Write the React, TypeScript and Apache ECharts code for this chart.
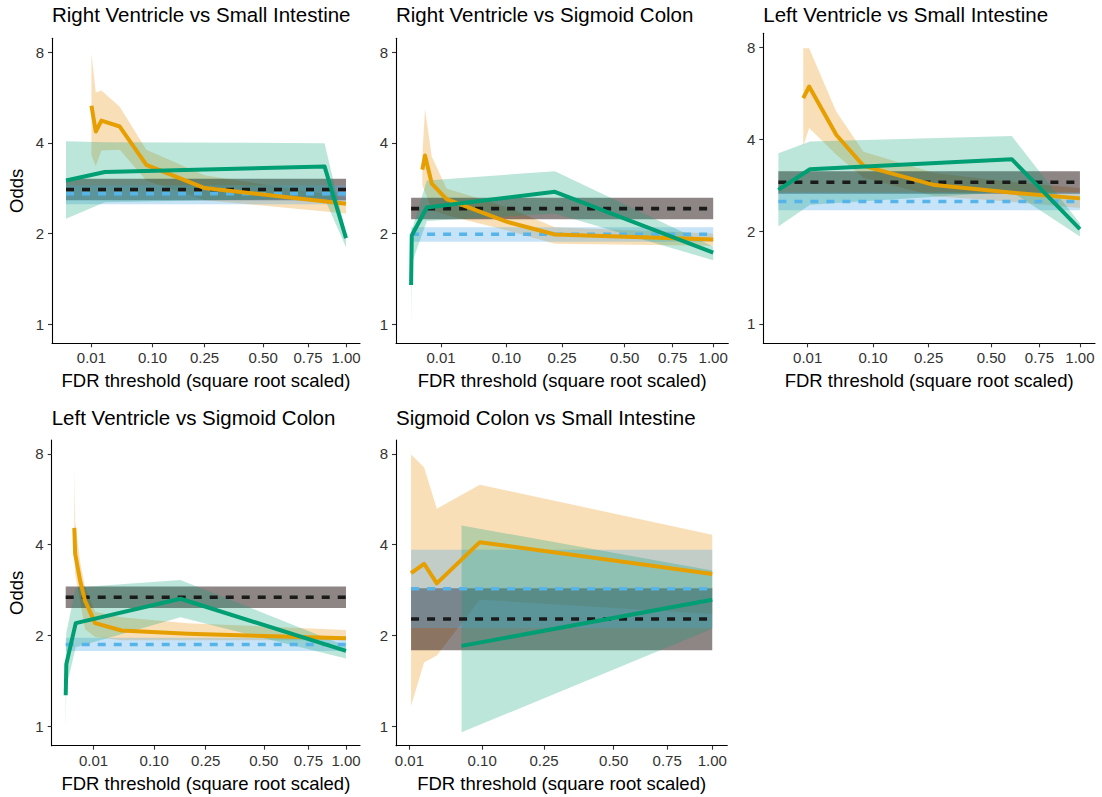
import React, { useEffect, useRef } from "react";
import * as echarts from "echarts";

// ---- text ----
const PANEL_TITLES = [
  "Right Ventricle vs Small Intestine",
  "Right Ventricle vs Sigmoid Colon",
  "Left Ventricle vs Small Intestine",
  "Left Ventricle vs Sigmoid Colon",
  "Sigmoid Colon vs Small Intestine",
];
const X_TITLE = "FDR threshold (square root scaled)";
const Y_TITLE = "Odds";
const X_TICKS = [0.01, 0.1, 0.25, 0.5, 0.75, 1.0];
const Y_TICKS = [1, 2, 4, 8];

// ---- data: rows are [FDR threshold, odds, lower, upper] ----
const RVSI_ORANGE = [
  [0.01, 5.31, 3.63, 7.9],
  [0.0133, 4.36, 3.35, 5.88],
  [0.0183, 4.74, 3.77, 5.96],
  [0.04, 4.53, 3.79, 5.27],
  [0.0865, 3.38, 3.0, 3.79],
  [0.25, 2.83, 2.58, 3.12],
  [1.0, 2.51, 2.33, 2.64],
];
const RVSI_GREEN = [
  [0.0001, 3.0, 2.24, 4.05],
  [0.0217, 3.2, 2.54, 4.02],
  [0.854, 3.34, 2.62, 3.99],
  [1.0, 1.93, 1.8, 2.0],
];
// bands: [lower, estimate, upper]
const RVSI_BLACK = [2.58, 2.8, 3.04];
const RVSI_BLUE = [2.5, 2.71, 2.89];

const RVSC_ORANGE = [
  [0.00145, 3.26, 2.9, 3.6],
  [0.0022, 3.63, 2.75, 5.18],
  [0.0048, 2.93, 2.4, 3.6],
  [0.014, 2.6, 2.3, 2.82],
  [0.1, 2.19, 2.05, 2.45],
  [0.227, 1.985, 1.85, 2.1],
  [1.0, 1.91, 1.82, 2.0],
];
const RVSC_GREEN = [
  [0.000001, 1.35, 0.98, 1.6],
  [0.00001, 1.97, 1.59, 2.05],
  [0.0028, 2.44, 2.2, 3.0],
  [0.227, 2.75, 2.33, 3.22],
  [1.0, 1.73, 1.63, 1.81],
];
const RVSC_BLACK = [2.23, 2.42, 2.63];
const RVSC_BLUE = [1.88, 1.99, 2.1];

const LVSI_ORANGE = [
  [0.0073, 5.46, 3.8, 7.95],
  [0.011, 5.96, 4.36, 7.95],
  [0.038, 4.14, 3.57, 4.93],
  [0.081, 3.28, 3.0, 3.65],
  [0.27, 2.84, 2.61, 3.11],
  [0.58, 2.69, 2.51, 2.92],
  [1.0, 2.57, 2.39, 2.78],
];
const LVSI_GREEN = [
  [0.00001, 2.74, 2.08, 3.61],
  [0.0116, 3.2, 2.45, 3.94],
  [0.6, 3.45, 2.7, 4.11],
  [1.0, 2.04, 1.93, 2.13],
];
const LVSI_BLACK = [2.66, 2.9, 3.15];
const LVSI_BLUE = [2.35, 2.51, 2.69];

const LVSC_ORANGE = [
  [0.001, 4.55, 3.9, 7.2],
  [0.0012, 3.73, 3.2, 4.8],
  [0.00275, 3.04, 2.6, 3.5],
  [0.0049, 2.61, 2.1, 2.9],
  [0.0112, 2.2, 1.98, 2.4],
  [0.04, 2.08, 1.93, 2.3],
  [0.19, 2.03, 1.93, 2.2],
  [1.0, 1.96, 1.93, 2.09],
];
const LVSC_GREEN = [
  [0.000001, 1.27, 0.99, 1.6],
  [0.00001, 1.61, 1.35, 2.05],
  [0.00135, 2.2, 1.83, 2.89],
  [0.168, 2.65, 2.3, 3.06],
  [1.0, 1.78, 1.68, 1.85],
];
const LVSC_BLACK = [2.47, 2.68, 2.91];
const LVSC_BLUE = [1.78, 1.87, 1.97];

const SCSI_ORANGE = [
  [0.011, 3.22, 1.17, 7.96],
  [0.0206, 3.46, 1.63, 7.22],
  [0.0329, 2.98, 1.72, 5.26],
  [0.0956, 4.08, 2.63, 6.32],
  [1.0, 3.2, 2.36, 4.32],
];
const SCSI_GREEN = [
  [0.065, 1.85, 0.957, 4.63],
  [1.0, 2.63, 2.11, 3.29],
];
const SCSI_BLACK = [1.79, 2.27, 2.87];
const SCSI_BLUE = [2.12, 2.86, 3.85];

const Y_LOG2_MIN = -0.21;
const Y_LOG2_MAX = 3.152;

// ---- styles / layout ----
const FONT = "'Liberation Sans', Arial, Helvetica, sans-serif";
const ORANGE = "#E69F00";
const GREEN = "#009E73";
const BLUE = "#56B4E9";
const BLACK = "#1a1a1a";
const ORANGE_FILL = "rgba(232,150,20,0.3)";
const GREEN_FILL = "rgba(0,158,115,0.26)";
const GRAY_FILL = "rgba(29,11,11,0.5)";
const BLUE_FILL = "rgba(86,170,233,0.33)";

const LAYOUT = [
  { left: 52, top: 38.3, width: 308, height: 305, titleTop: 4, yTitle: true },
  { left: 396, top: 38.3, width: 332.3, height: 305, titleTop: 4, yTitle: false },
  { left: 763.3, top: 33.3, width: 331.7, height: 310, titleTop: 4, yTitle: false },
  { left: 51.7, top: 440, width: 308.3, height: 305.7, titleTop: 406.5, yTitle: true },
  { left: 396, top: 440, width: 331.3, height: 305.7, titleTop: 406.5, yTitle: false },
];

const PANELS = [
  { orange: RVSI_ORANGE, green: RVSI_GREEN, black: RVSI_BLACK, blue: RVSI_BLUE },
  { orange: RVSC_ORANGE, green: RVSC_GREEN, black: RVSC_BLACK, blue: RVSC_BLUE },
  { orange: LVSI_ORANGE, green: LVSI_GREEN, black: LVSI_BLACK, blue: LVSI_BLUE },
  { orange: LVSC_ORANGE, green: LVSC_GREEN, black: LVSC_BLACK, blue: LVSC_BLUE },
  { orange: SCSI_ORANGE, green: SCSI_GREEN, black: SCSI_BLACK, blue: SCSI_BLUE },
];

const sq = (v: number) => Math.sqrt(v);
const lg = (v: number) => Math.log2(v);

function ribbon(data: number[][], idx: number, fill: string, z: number) {
  return {
    type: "custom",
    xAxisIndex: idx,
    yAxisIndex: idx,
    silent: true,
    z,
    data,
    renderItem: (params: any, api: any) => {
      if (params.dataIndexInside !== 0) return null;
      const n = params.dataInsideLength;
      const top: number[][] = [];
      const bot: number[][] = [];
      for (let i = 0; i < n; i++) {
        top.push(api.coord([api.value(0, i), api.value(2, i)]));
        bot.push(api.coord([api.value(0, i), api.value(1, i)]));
      }
      return {
        type: "polygon",
        shape: { points: top.concat(bot.reverse()) },
        style: { fill, stroke: "none" },
      };
    },
  };
}

function lineSeries(data: number[][], idx: number, color: string, z: number, dashed: boolean) {
  return {
    type: "line",
    xAxisIndex: idx,
    yAxisIndex: idx,
    silent: true,
    z,
    data,
    symbol: "none",
    showSymbol: false,
    lineStyle: {
      color,
      width: dashed ? 3.6 : 4,
      type: dashed ? [8, 8] : "solid",
      cap: "butt",
      join: "round",
    },
  };
}

function buildOption() {
  const grid: any[] = [];
  const xAxis: any[] = [];
  const yAxis: any[] = [];
  const title: any[] = [];
  const series: any[] = [];

  PANELS.forEach((p, i) => {
    const L = LAYOUT[i];
    const xs = [...p.orange, ...p.green].map((r) => sq(r[0]));
    const xmin = Math.min(...xs);
    const xmax = Math.max(...xs);
    const span = xmax - xmin;

    grid.push({ left: L.left, top: L.top, width: L.width, height: L.height, containLabel: false });
    title.push({
      text: PANEL_TITLES[i],
      left: L.left,
      top: L.titleTop,
      padding: 0,
      textStyle: { fontSize: 20.5, fontWeight: "normal", color: "#000", fontFamily: FONT },
    });
    xAxis.push({
      gridIndex: i,
      type: "value",
      min: xmin - 0.05 * span,
      max: xmax + 0.05 * span,
      splitLine: { show: false },
      axisLine: { show: true, onZero: false, lineStyle: { color: "#000", width: 1.1 } },
      axisTick: {
        show: true,
        length: 4,
        customValues: X_TICKS.map(sq),
        lineStyle: { color: "#333", width: 1.1 },
      },
      axisLabel: {
        customValues: X_TICKS.map(sq),
        formatter: (v: number) => (v * v).toFixed(2),
        color: "#333",
        fontSize: 15,
        fontFamily: FONT,
        margin: 7,
      },
      name: X_TITLE,
      nameLocation: "middle",
      nameGap: 28,
      nameTextStyle: { fontSize: 18.5, color: "#000", fontFamily: FONT },
    });
    yAxis.push({
      gridIndex: i,
      type: "value",
      min: Y_LOG2_MIN,
      max: Y_LOG2_MAX,
      splitLine: { show: false },
      axisLine: { show: true, onZero: false, lineStyle: { color: "#000", width: 1.1 } },
      axisTick: {
        show: true,
        length: 4,
        customValues: Y_TICKS.map(lg),
        lineStyle: { color: "#333", width: 1.1 },
      },
      axisLabel: {
        customValues: Y_TICKS.map(lg),
        formatter: (v: number) => String(Math.round(Math.pow(2, v))),
        color: "#333",
        fontSize: 15,
        fontFamily: FONT,
        margin: 8,
      },
      name: L.yTitle ? Y_TITLE : "",
      nameLocation: "middle",
      nameGap: 26,
      nameTextStyle: { fontSize: 18.5, color: "#000", fontFamily: FONT },
    });

    const bandRows = (b: number[]) => [
      [xmin, lg(b[0]), lg(b[2])],
      [xmax, lg(b[0]), lg(b[2])],
    ];
    const rib = (rows: number[][]) => rows.map((r) => [sq(r[0]), lg(r[2]), lg(r[3])]);
    const pts = (rows: number[][]) => rows.map((r) => [sq(r[0]), lg(r[1])]);

    series.push(ribbon(rib(p.orange), i, ORANGE_FILL, 2));
    series.push(ribbon(bandRows(p.black), i, GRAY_FILL, 3));
    series.push(ribbon(bandRows(p.blue), i, BLUE_FILL, 4));
    series.push(ribbon(rib(p.green), i, GREEN_FILL, 5));
    series.push(lineSeries([[xmin, lg(p.black[1])], [xmax, lg(p.black[1])]], i, BLACK, 6, true));
    series.push(lineSeries([[xmin, lg(p.blue[1])], [xmax, lg(p.blue[1])]], i, BLUE, 6, true));
    series.push(lineSeries(pts(p.orange), i, ORANGE, 7, false));
    series.push(lineSeries(pts(p.green), i, GREEN, 8, false));
  });

  return {
    animation: false,
    backgroundColor: "#ffffff",
    textStyle: { fontFamily: FONT },
    title,
    grid,
    xAxis,
    yAxis,
    series,
  };
}

export default function App() {
  const ref = useRef<HTMLDivElement>(null);
  useEffect(() => {
    if (!ref.current) return;
    const chart = echarts.init(ref.current, undefined, { renderer: "svg" });
    chart.setOption(buildOption() as any);
    return () => chart.dispose();
  }, []);
  return (
    <div
      ref={ref}
      style={{ position: "absolute", left: 0, top: 0, width: 1102, height: 797, background: "#fff" }}
    />
  );
}
